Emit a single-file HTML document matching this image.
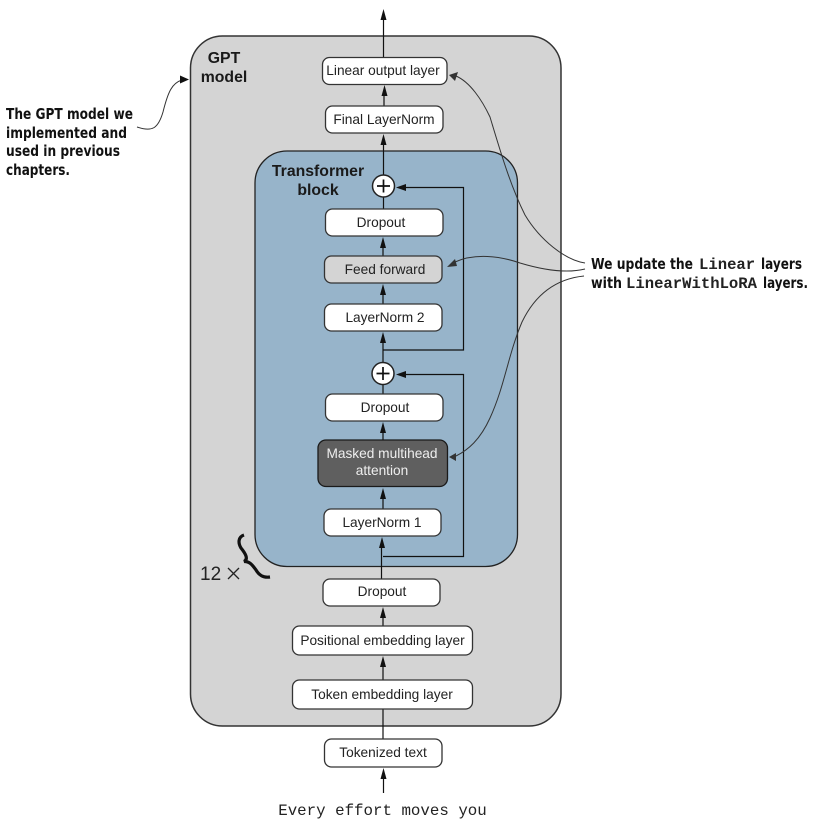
<!DOCTYPE html>
<html><head><meta charset="utf-8"><style>
html,body{margin:0;padding:0;background:#fff}
svg{display:block}
text{font-family:"Liberation Sans",sans-serif;font-size:13.7px;fill:#222;text-anchor:middle}
.b{font-weight:bold;font-size:15.8px;fill:#1a1a1a}
.n{font-family:"DejaVu Sans Condensed","DejaVu Sans",sans-serif;font-weight:bold;font-size:15px;fill:#111;text-anchor:start}
.m{font-family:"Liberation Mono",monospace;font-size:15.6px;font-weight:bold;fill:#222;text-anchor:start}
.box{fill:#fff;stroke:#333;stroke-width:1.3}
.l{stroke:#111;stroke-width:1.2;fill:none}
.c{stroke:#333;stroke-width:1;fill:none}
</style></head><body>
<svg width="819" height="825" viewBox="0 0 819 825" xmlns="http://www.w3.org/2000/svg">
<rect x="190.500" y="36" width="370.500" height="690" rx="32" fill="#d4d4d4" stroke="#333" stroke-width="1.500"/>
<rect x="255" y="151" width="262.500" height="415.500" rx="32" fill="#97b4ca" stroke="#222" stroke-width="1.300"/>

<path class="l" d="M383.500 20V58M384 95V106M383.500 144V175M383.500 197V209M383 247V256M383 294V304M383 342V362M383 384V394M383 432V440M383 498V509M381.500 547V579M383 617V626M383 666V680M383 709V739M383.500 778V793"/>
<path class="l" d="M383 350H463.500V187.500H405M383 556.500H463.500V374.500H405"/>
<g fill="#111">
<path d="M383.500 9l-3 11h6zM384.500 85l-3 11h6zM383.500 134l-3 11h6zM383 237l-3 11h6zM383 284l-3 11h6zM383 332l-3 11h6zM383 422l-3 11h6zM383 488l-3 11h6zM382 537l-3 11h6zM383 607l-3 11h6zM383 656l-3 11h6zM383.500 768l-3 11h6z"/>
<path d="M396 187.500l10-3.500v7zM396 374.500l10-3.500v7z"/>
</g>

<rect class="box" x="322.500" y="57.500" width="124.500" height="27" rx="7"/>
<rect class="box" x="325.500" y="106" width="117.500" height="27" rx="7"/>
<rect class="box" x="325.500" y="209" width="117.500" height="27" rx="7"/>
<rect class="box" x="324.500" y="256" width="117.500" height="27" rx="7" style="fill:#d4d4d4"/>
<rect class="box" x="324.500" y="304" width="117.500" height="27" rx="7"/>
<rect class="box" x="325.500" y="394" width="117.500" height="27" rx="7"/>
<rect class="box" x="318" y="440" width="129.500" height="46.500" rx="8" style="fill:#5f5f5f;stroke:#1a1a1a"/>
<rect class="box" x="324" y="509" width="117" height="27" rx="7"/>
<rect class="box" x="323" y="579" width="117" height="27" rx="7"/>
<rect class="box" x="292.500" y="626" width="180" height="29" rx="7"/>
<rect class="box" x="292.500" y="680" width="180" height="29" rx="7"/>
<rect class="box" x="324.500" y="739" width="117.500" height="28" rx="7"/>

<circle cx="383.500" cy="186" r="11" fill="#fff" stroke="#222" stroke-width="1.500"/>
<circle cx="383" cy="373.500" r="11" fill="#fff" stroke="#222" stroke-width="1.500"/>
<path d="M377 186H390M383.500 179.500V192.500M376.500 373.500H389.500M383 367V380" stroke="#111" stroke-width="1.700" fill="none"/>

<text x="383" y="75">Linear output layer</text>
<text x="384" y="124">Final LayerNorm</text>
<text x="381" y="227">Dropout</text>
<text x="385" y="274">Feed forward</text>
<text x="385" y="322">LayerNorm 2</text>
<text x="385" y="412">Dropout</text>
<text x="382" y="458" style="fill:#eee">Masked multihead</text>
<text x="382" y="475" style="fill:#eee">attention</text>
<text x="382" y="527">LayerNorm 1</text>
<text x="382" y="596">Dropout</text>
<text x="382.500" y="645">Positional embedding layer</text>
<text x="382" y="699">Token embedding layer</text>
<text x="383" y="757">Tokenized text</text>

<text class="b" x="224" y="63">GPT</text>
<text class="b" x="224" y="82">model</text>
<text class="b" x="318" y="176">Transformer</text>
<text class="b" x="318" y="195">block</text>

<text x="382.500" y="815" style="font-family:'Liberation Mono',monospace;font-size:15.800px;fill:#222">Every effort moves you</text>

<text x="200" y="580" style="font-size:19px;text-anchor:start;fill:#222">12</text>
<path d="M228 568L239 579M239 568L228 579" stroke="#222" stroke-width="1.300" fill="none"/>
<path d="M244 535C238 537 238 543 241 548C245 553 249 559 244 561.500C250 561 253 566 256 570C259 575 263 578 270 577" fill="none" stroke="#111" stroke-width="3.200"/>

<text class="n" x="6" y="119" textLength="127" lengthAdjust="spacingAndGlyphs">The GPT model we</text>
<text class="n" x="6" y="138" textLength="121" lengthAdjust="spacingAndGlyphs">implemented and</text>
<text class="n" x="6" y="156" textLength="114" lengthAdjust="spacingAndGlyphs">used in previous</text>
<text class="n" x="6" y="175" textLength="64" lengthAdjust="spacingAndGlyphs">chapters.</text>

<text class="n" x="591" y="269" textLength="102" lengthAdjust="spacingAndGlyphs">We update the</text>
<text class="m" x="699" y="269">Linear</text>
<text class="n" x="761" y="269" textLength="41" lengthAdjust="spacingAndGlyphs">layers</text>
<text class="n" x="591" y="288" textLength="31" lengthAdjust="spacingAndGlyphs">with</text>
<text class="m" x="626" y="288">LinearWithLoRA</text>
<text class="n" x="763" y="288" textLength="45" lengthAdjust="spacingAndGlyphs">layers.</text>

<path class="c" d="M137 127C152 132 158 129 163 112C168 92 172 83 182 80"/>
<path d="M189 79.500l-9-4v8z" fill="#111"/>
<path class="c" d="M585 263C565 260 540 240 525 215C510 185 500 150 490 117C482 100 470 82 456 76"/>
<path d="M449 75l9-3-3 9z" fill="#333"/>
<path class="c" d="M585 269C565 274 540 269 520 263C500 256 475 253 455 262"/>
<path d="M447 267l8-8 2 7z" fill="#333"/>
<path class="c" d="M584 276C555 279 535 295 522 322C508 355 505 385 490 418C480 440 468 450 456 456"/>
<path d="M449 457l7-4v8z" fill="#333"/>
</svg>
</body></html>
